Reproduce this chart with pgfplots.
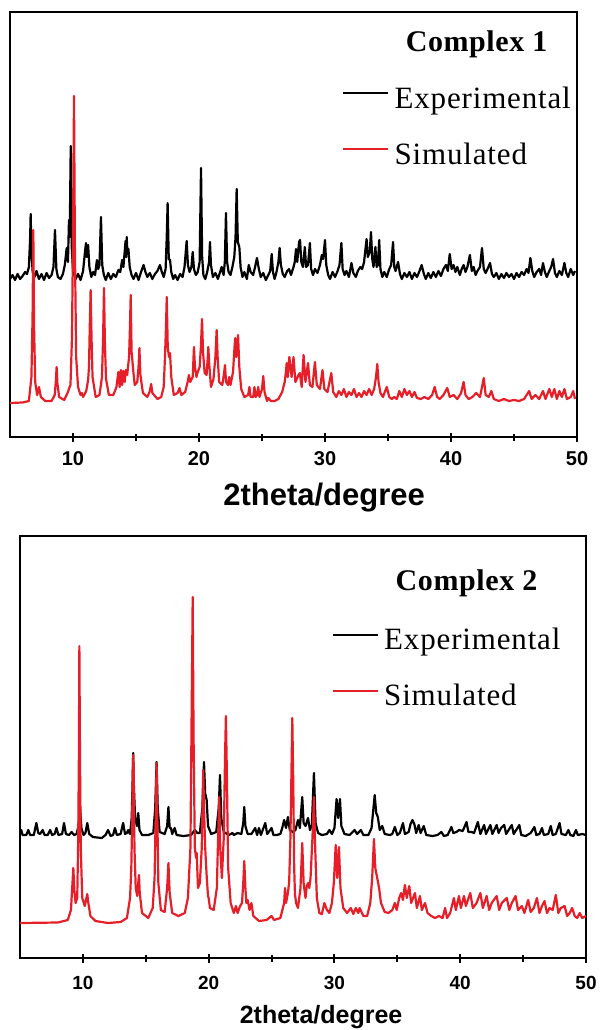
\documentclass[border=0pt]{standalone}
\usepackage{fontspec}
\setmainfont{Liberation Serif}
\setsansfont{Liberation Sans}
\usepackage{pgfplots}
\pgfplotsset{compat=1.18}
\definecolor{simred}{RGB}{230,30,40}

\pgfplotsset{
  xrd/.style={
    scale only axis,
    xmin=5, xmax=50, ymin=0,
    axis line style={line width=2.2pt},
    ytick=\empty,
    xtick={10,20,30,40,50},
    xticklabels={10,20,30,40,50},
    minor xtick={15,25,35,45},
    xtick pos=bottom,
    tick align=center,
    major tick length=9pt,
    minor tick length=7pt,
    tick style={line width=2pt, black},
    xticklabel style={anchor=north, inner sep=0pt},
    legend cell align=left,
    legend image code/.code={\draw[#1, line width=2.2pt] (0pt,5pt) -- (45pt,5pt); \path (49pt,5pt);},
    every axis plot/.append style={line width=2.2pt, line join=round},
  },
}

\begin{document}
\begin{tikzpicture}
\useasboundingbox (0pt,0pt) rectangle (601pt,-1030pt);

% ---------- Complex 1 ----------
\begin{axis}[xrd,
  at={(10pt,-437pt)}, anchor=south west,
  width=567pt, height=425pt, ymax=425,
  xticklabel style={font=\fontsize{20}{20}\selectfont\sffamily\bfseries},
  xticklabel shift=10pt,
  xlabel={2theta/degree},
  xlabel style={font=\fontsize{31}{31}\selectfont\sffamily\bfseries,
    at={(axis description cs:0.554,-0.162)}, anchor=base},
  legend style={draw=none, fill=none, inner sep=0pt,
    at={(axis description cs:0.585,0.828)}, anchor=north west,
    font=\fontsize{31}{31}\selectfont\addfontfeature{LetterSpace=2.7}, row sep=30pt,
    nodes={inner sep=1.5pt}},
]
\addplot[black] coordinates {
(5.0,158) (5.2,162) (5.4,157) (5.6,163) (5.8,158) (6.0,161) (6.2,165) (6.35,163) (6.5,170) (6.6,200) (6.64,223) (6.7,185) (6.8,165) (6.95,160)
(7.1,166) (7.3,158) (7.5,163) (7.7,157) (7.9,164) (8.1,159) (8.3,162) (8.45,170) (8.57,207) (8.68,168) (8.8,160) (9.0,158) (9.2,163) (9.35,172)
(9.5,189) (9.6,175) (9.68,217) (9.74,200) (9.82,291) (9.9,190) (10.0,166) (10.2,158) (10.4,163) (10.6,157) (10.8,166) (10.95,185) (11.03,194)
(11.1,180) (11.2,192) (11.3,170) (11.45,160) (11.6,165) (11.75,162) (11.9,177) (12.0,168) (12.1,172) (12.22,220) (12.32,172) (12.45,162)
(12.6,157) (12.8,164) (13.0,158) (13.2,163) (13.4,160) (13.6,167) (13.75,165) (13.9,177) (14.0,170) (14.1,185) (14.17,196) (14.22,180)
(14.26,200) (14.32,185) (14.4,188) (14.5,170) (14.65,162) (14.8,158) (15.0,164) (15.2,157) (15.4,165) (15.6,172) (15.75,165) (15.9,160)
(16.1,164) (16.3,158) (16.5,163) (16.7,166) (16.9,172) (17.05,165) (17.2,160) (17.35,168) (17.44,200) (17.51,234) (17.6,178) (17.7,177)
(17.8,165) (17.95,158) (18.1,162) (18.3,157) (18.5,163) (18.7,160) (18.85,170) (19.02,196) (19.12,172) (19.25,165) (19.4,170) (19.5,185)
(19.6,168) (19.75,162) (19.9,165) (20.05,175) (20.16,269) (20.25,180) (20.35,162) (20.5,158) (20.65,165) (20.8,175) (20.87,195) (20.95,172)
(21.1,160) (21.3,164) (21.5,158) (21.65,164) (21.8,170) (21.95,162) (22.05,175) (22.14,224) (22.23,175) (22.35,165) (22.5,162) (22.65,170)
(22.8,180) (22.9,200) (22.99,248) (23.08,195) (23.2,190) (23.3,170) (23.45,160) (23.6,165) (23.8,158) (23.95,172) (24.1,165) (24.3,162)
(24.45,170) (24.6,179) (24.75,168) (24.9,160) (25.1,164) (25.3,157) (25.5,162) (25.65,166) (25.77,183) (25.87,165) (26.0,158) (26.15,165)
(26.3,175) (26.4,189) (26.5,172) (26.65,163) (26.8,160) (27.0,166) (27.15,168) (27.3,162) (27.5,170) (27.6,175) (27.7,188) (27.8,175)
(27.94,195) (28.02,197) (28.12,175) (28.25,170) (28.4,190) (28.5,170) (28.65,172) (28.8,194) (28.9,168) (29.05,162) (29.2,168) (29.4,164)
(29.6,172) (29.75,182) (29.85,178) (30.0,197) (30.1,172) (30.25,162) (30.4,158) (30.6,165) (30.8,160) (31.0,166) (31.15,172) (31.3,194)
(31.4,168) (31.55,162) (31.7,166) (31.9,160) (32.1,174) (32.25,164) (32.45,160) (32.6,166) (32.8,170) (32.95,168) (33.1,175) (33.3,198)
(33.4,180) (33.55,185) (33.65,205) (33.75,178) (33.85,170) (34.0,190) (34.1,170) (34.2,172) (34.3,197) (34.4,168) (34.55,160) (34.7,165)
(34.9,160) (35.1,168) (35.25,172) (35.4,195) (35.5,170) (35.6,166) (35.8,175) (35.95,163) (36.1,158) (36.3,164) (36.5,160) (36.7,165)
(36.9,158) (37.1,164) (37.3,160) (37.5,166) (37.67,172) (37.85,163) (38.0,158) (38.2,164) (38.4,159) (38.6,165) (38.8,160) (39.0,166)
(39.2,161) (39.4,168) (39.6,172) (39.75,166) (39.9,183) (40.05,168) (40.2,172) (40.35,165) (40.5,170) (40.7,162) (40.85,168) (41.0,172)
(41.15,165) (41.3,170) (41.5,182) (41.65,166) (41.8,170) (41.95,162) (42.1,166) (42.3,170) (42.46,189) (42.6,168) (42.75,164) (42.9,168)
(43.1,174) (43.25,163) (43.4,160) (43.6,164) (43.8,158) (44.0,163) (44.2,159) (44.4,164) (44.6,160) (44.8,163) (45.0,158) (45.2,164)
(45.4,160) (45.6,165) (45.8,162) (46.0,168) (46.15,164) (46.3,179) (46.45,166) (46.6,160) (46.8,165) (47.0,168) (47.15,162) (47.3,174)
(47.45,165) (47.6,160) (47.8,166) (47.95,170) (48.1,178) (48.25,164) (48.4,160) (48.6,166) (48.8,162) (49.0,174) (49.15,164) (49.3,160)
(49.5,168) (49.7,162) (49.84,166)
};
\addlegendentry{Experimental}
\addplot[simred] coordinates {
(5.0,34) (6.0,34.5) (6.5,36) (6.7,60) (6.79,120) (6.85,207) (6.91,110) (7.0,55) (7.15,42) (7.3,50) (7.45,40) (7.8,36) (8.3,36) (8.55,42)
(8.64,56) (8.7,70) (8.76,54) (8.9,40) (9.3,37) (9.6,45) (9.7,49) (9.8,52) (9.92,100) (10.0,200) (10.08,341) (10.15,190) (10.25,80)
(10.4,50) (10.6,42) (10.7,44) (10.8,40) (11.05,46) (11.2,57) (11.27,70) (11.33,110) (11.4,147) (11.47,100) (11.55,60) (11.8,40) (12.1,42)
(12.3,60) (12.39,100) (12.46,149) (12.53,95) (12.62,58) (12.85,42) (13.2,42) (13.45,50) (13.6,65) (13.7,50) (13.8,67) (13.9,52) (14.0,66)
(14.1,55) (14.2,67) (14.3,62) (14.45,80) (14.52,110) (14.58,142) (14.65,85) (14.8,64) (14.9,52) (15.1,55) (15.2,70) (15.27,89) (15.35,62)
(15.55,44) (15.9,40) (16.1,46) (16.2,53) (16.3,44) (16.7,38) (17.0,40) (17.2,50) (17.3,80) (17.38,110) (17.44,140) (17.52,90) (17.62,80)
(17.7,84) (17.8,60) (18.0,42) (18.3,44) (18.45,49) (18.6,42) (18.9,45) (19.1,55) (19.2,62) (19.3,55) (19.5,60) (19.6,90) (19.68,70)
(19.8,60) (19.9,65) (20.05,70) (20.15,90) (20.24,118) (20.32,85) (20.45,64) (20.6,62) (20.7,80) (20.74,90) (20.8,75) (20.95,50) (21.15,58)
(21.3,80) (21.4,107) (21.48,80) (21.6,55) (21.85,52) (22.0,65) (22.06,72) (22.15,55) (22.3,52) (22.4,60) (22.5,52) (22.7,65) (22.82,90)
(22.88,99) (22.96,80) (23.04,90) (23.1,102) (23.2,70) (23.35,48) (23.6,40) (23.9,42) (24.0,50) (24.1,40) (24.3,40) (24.4,50) (24.5,40)
(24.6,42) (24.7,50) (24.8,40) (25.0,48) (25.1,61) (25.2,45) (25.4,36) (25.5,39) (25.7,36) (26.0,36) (26.3,38) (26.6,45) (26.8,55)
(26.9,65) (26.96,74) (27.05,60) (27.17,80) (27.35,60) (27.5,80) (27.65,55) (27.9,62) (28.0,64) (28.15,50) (28.3,82) (28.45,55) (28.65,74)
(28.8,52) (29.0,50) (29.2,75) (29.35,52) (29.6,48) (29.8,67) (29.95,48) (30.2,45) (30.5,64) (30.65,45) (30.9,40) (31.1,46) (31.3,42)
(31.5,48) (31.7,40) (31.9,45) (32.1,42) (32.3,48) (32.5,40) (32.7,44) (32.9,40) (33.1,46) (33.3,42) (33.5,48) (33.7,42) (33.9,48)
(34.05,60) (34.15,73) (34.25,55) (34.4,44) (34.6,40) (34.9,50) (35.1,40) (35.3,38) (35.5,40) (35.7,38) (35.9,46) (36.1,40) (36.3,48)
(36.5,42) (36.7,46) (36.9,40) (37.1,45) (37.3,39) (37.6,38) (37.9,40) (38.2,38) (38.5,42) (38.7,50) (38.9,40) (39.1,38) (39.4,42)
(39.7,49) (39.9,40) (40.2,42) (40.5,38) (40.8,44) (41.0,55) (41.15,42) (41.4,38) (41.7,40) (42.0,44) (42.3,40) (42.6,59) (42.75,42)
(43.0,40) (43.2,46) (43.4,38) (43.8,36) (44.2,38) (44.6,36) (45.0,37) (45.4,36) (45.8,38) (46.2,46) (46.4,38) (46.7,42) (47.0,38)
(47.3,46) (47.5,38) (47.8,48) (48.0,40) (48.2,48) (48.4,38) (48.6,46) (48.8,40) (49.0,48) (49.2,38) (49.5,40) (49.7,46) (49.84,38)
};
\addlegendentry{Simulated}
\node[font=\fontsize{30}{30}\selectfont\bfseries\addfontfeature{LetterSpace=2}, anchor=base]
  at (axis description cs:0.823,0.908) {Complex 1};
\end{axis}

% ---------- Complex 2 ----------
\begin{axis}[xrd,
  at={(20pt,-958pt)}, anchor=south west,
  width=566pt, height=422pt, ymax=422,
  xticklabel style={font=\fontsize{19}{19}\selectfont\sffamily\bfseries},
  xticklabel shift=14pt,
  xlabel={2theta/degree},
  xlabel style={font=\fontsize{25}{25}\selectfont\sffamily\bfseries,
    at={(axis description cs:0.532,-0.154)}, anchor=base},
  legend style={draw=none, fill=none, inner sep=0pt,
    at={(axis description cs:0.550,0.785)}, anchor=north west,
    font=\fontsize{31}{31}\selectfont\addfontfeature{LetterSpace=2.7}, row sep=30pt,
    nodes={inner sep=1.5pt}},
]
\addplot[black] coordinates {
(5.0,125) (5.1,128) (5.2,123) (5.5,123) (5.66,128) (5.8,123) (6.1,123) (6.3,135) (6.45,125) (6.6,124) (6.8,128) (6.95,123) (7.2,123)
(7.4,128) (7.55,123) (7.75,124) (7.9,130) (8.05,123) (8.35,124) (8.5,135) (8.65,124) (8.9,123) (9.1,126) (9.3,123) (9.5,124) (9.65,132)
(9.77,151) (9.88,130) (10.05,123) (10.2,125) (10.35,135) (10.5,124) (10.8,121) (11.5,120) (11.8,123) (12.0,128) (12.2,122) (12.4,123)
(12.55,130) (12.7,123) (13.0,124) (13.2,135) (13.35,124) (13.5,125) (13.6,128) (13.75,124) (13.88,140) (13.95,175) (14.0,205) (14.06,170)
(14.15,140) (14.3,132) (14.4,145) (14.5,128) (14.7,123) (15.2,123) (15.6,125) (15.75,150) (15.86,196) (15.95,150) (16.1,126) (16.5,124)
(16.7,132) (16.8,151) (16.9,130) (17.0,130) (17.1,124) (17.3,130) (17.45,123) (18.0,122) (18.6,123) (18.9,128) (19.1,125) (19.3,125)
(19.5,150) (19.63,196) (19.72,165) (19.84,158) (19.95,132) (20.2,124) (20.6,126) (20.8,150) (20.9,183) (21.0,140) (21.2,126) (21.6,123)
(21.9,125) (22.0,123) (22.3,125) (22.6,124) (22.75,135) (22.83,151) (22.92,132) (23.1,124) (23.4,124) (23.7,130) (23.85,123) (24.0,130)
(24.15,123) (24.5,135) (24.65,124) (25.0,130) (25.15,123) (25.4,123) (25.7,124) (25.85,130) (26.0,138) (26.15,130) (26.3,141) (26.45,128)
(26.7,126) (26.9,128) (27.1,138) (27.25,130) (27.44,161) (27.55,135) (27.7,132) (27.9,140) (28.05,128) (28.2,132) (28.37,185) (28.5,135)
(28.7,125) (29.0,123) (29.4,124) (29.6,128) (29.8,124) (30.0,130) (30.17,159) (30.3,140) (30.44,159) (30.55,132) (30.8,124) (31.2,123)
(31.6,128) (31.8,124) (32.1,128) (32.3,123) (32.7,123) (32.95,130) (33.2,163) (33.32,145) (33.45,141) (33.6,128) (33.8,132) (34.0,124)
(34.4,123) (34.6,124) (34.8,131) (35.0,123) (35.2,125) (35.45,135) (35.6,124) (35.9,126) (36.05,134) (36.2,138) (36.35,134) (36.5,125)
(36.7,133) (36.85,125) (37.1,132) (37.3,123) (37.8,122) (38.2,123) (38.5,126) (38.7,122) (39.0,123) (39.3,131) (39.45,125) (39.7,126)
(39.9,128) (40.2,127) (40.5,136) (40.65,126) (40.9,126) (41.1,125) (41.4,136) (41.6,124) (41.9,133) (42.05,124) (42.4,133) (42.55,124)
(42.9,133) (43.05,125) (43.25,130) (43.5,133) (43.65,124) (43.85,128) (44.1,133) (44.25,124) (44.45,128) (44.7,133) (44.85,123) (45.2,122)
(45.6,125) (45.9,131) (46.05,123) (46.3,124) (46.5,130) (46.65,123) (47.0,124) (47.2,132) (47.35,123) (47.6,124) (47.9,135) (48.05,124)
(48.4,123) (48.6,128) (48.75,123) (49.0,122) (49.2,128) (49.35,123) (49.7,124) (50.0,123)
};
\addlegendentry{Experimental}
\addplot[simred] coordinates {
(5.0,35) (8.0,35.5) (8.8,38) (9.05,48) (9.15,70) (9.24,90) (9.32,68) (9.42,55) (9.55,60) (9.63,120) (9.68,200) (9.72,312) (9.77,200)
(9.83,110) (9.95,60) (10.15,52) (10.28,60) (10.35,64) (10.42,56) (10.6,42) (11.0,37) (12.0,35) (13.0,36) (13.5,40) (13.75,60) (13.85,90)
(13.92,140) (13.97,190) (14.0,203) (14.04,185) (14.1,110) (14.2,70) (14.32,62) (14.4,75) (14.46,83) (14.52,65) (14.7,45) (15.2,40)
(15.55,50) (15.7,80) (15.8,150) (15.86,195) (15.92,140) (16.0,75) (16.2,48) (16.5,46) (16.7,70) (16.8,95) (16.9,65) (17.1,45) (17.6,42)
(18.1,45) (18.35,60) (18.55,110) (18.65,250) (18.73,361) (18.8,220) (18.9,110) (19.0,100) (19.05,105) (19.15,70) (19.3,75) (19.45,110)
(19.52,160) (19.57,188) (19.63,150) (19.72,111) (19.85,80) (19.95,62) (20.0,60) (20.1,50) (20.4,48) (20.65,70) (20.75,120) (20.84,161)
(20.92,110) (21.05,80) (21.2,120) (21.3,200) (21.37,242) (21.44,190) (21.55,90) (21.75,55) (22.0,45) (22.17,52) (22.3,45) (22.5,52)
(22.65,55) (22.75,75) (22.83,97) (22.92,70) (23.0,55) (23.1,58) (23.25,48) (23.4,55) (23.55,42) (24.0,37) (24.6,38) (25.0,42) (25.2,38)
(25.7,40) (26.0,55) (26.07,70) (26.15,55) (26.3,65) (26.4,76) (26.5,120) (26.6,200) (26.65,240) (26.72,180) (26.8,90) (26.86,64)
(26.95,55) (27.1,50) (27.3,70) (27.44,115) (27.55,75) (27.7,60) (27.8,72) (27.9,75) (28.0,70) (28.1,80) (28.25,120) (28.37,161) (28.47,110)
(28.6,60) (28.8,45) (29.0,44) (29.2,55) (29.4,48) (29.6,45) (29.8,55) (29.95,75) (30.1,113) (30.22,80) (30.36,111) (30.48,70) (30.7,50)
(31.0,45) (31.3,50) (31.5,44) (31.7,50) (31.9,45) (32.0,50) (32.3,42) (32.6,42) (32.85,55) (33.0,80) (33.14,119) (33.25,90) (33.4,80)
(33.55,70) (33.7,55) (34.0,46) (34.3,45) (34.6,48) (34.8,55) (34.95,48) (35.15,60) (35.3,65) (35.45,58) (35.6,73) (35.75,60) (35.95,72)
(36.1,55) (36.4,65) (36.55,50) (36.8,62) (36.95,48) (37.2,55) (37.4,45) (37.7,42) (38.0,40) (38.3,42) (38.6,40) (38.8,50) (38.95,40)
(39.2,45) (39.5,60) (39.65,48) (39.9,62) (40.05,50) (40.3,62) (40.45,52) (40.8,65) (41.0,50) (41.3,55) (41.6,65) (41.8,50) (42.1,62)
(42.3,48) (42.5,55) (42.9,62) (43.1,48) (43.3,55) (43.7,60) (43.9,48) (44.1,55) (44.4,62) (44.6,48) (44.9,52) (45.1,45) (45.4,58)
(45.6,46) (45.85,50) (46.1,60) (46.3,45) (46.5,52) (46.7,57) (46.9,45) (47.1,50) (47.35,48) (47.6,63) (47.8,45) (48.0,50) (48.3,52)
(48.5,42) (48.7,45) (48.9,50) (49.1,42) (49.3,40) (49.5,45) (49.7,40) (50.0,42)
};
\addlegendentry{Simulated}
\node[font=\fontsize{30}{30}\selectfont\bfseries\addfontfeature{LetterSpace=2}, anchor=base]
  at (axis description cs:0.789,0.870) {Complex 2};
\end{axis}
\end{tikzpicture}
\end{document}
